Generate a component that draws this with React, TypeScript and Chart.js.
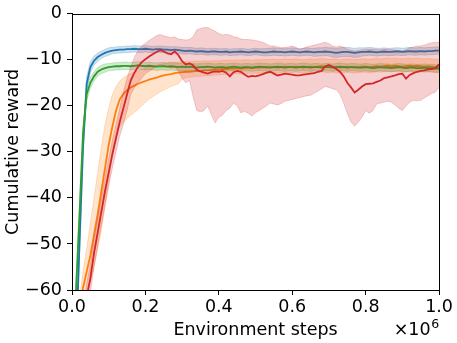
import { useEffect, useRef } from "react";
import { Chart, registerables } from "chart.js";

Chart.register(...registerables);

const STEPS = [
  0, 0.01, 0.02, 0.03, 0.04, 0.05, 0.06, 0.07, 0.08, 0.09,
  0.1, 0.11, 0.12, 0.13, 0.14, 0.15, 0.16, 0.17, 0.18, 0.19,
  0.2, 0.21, 0.22, 0.23, 0.24, 0.25, 0.26, 0.27, 0.28, 0.29,
  0.3, 0.31, 0.32, 0.33, 0.34, 0.35, 0.36, 0.37, 0.38, 0.39,
  0.4, 0.41, 0.42, 0.43, 0.44, 0.45, 0.46, 0.47, 0.48, 0.49,
  0.5, 0.51, 0.52, 0.53, 0.54, 0.55, 0.56, 0.57, 0.58, 0.59,
  0.6, 0.61, 0.62, 0.63, 0.64, 0.65, 0.66, 0.67, 0.68, 0.69,
  0.7, 0.71, 0.72, 0.73, 0.74, 0.75, 0.76, 0.77, 0.78, 0.79,
  0.8, 0.81, 0.82, 0.83, 0.84, 0.85, 0.86, 0.87, 0.88, 0.89,
  0.9, 0.91, 0.92, 0.93, 0.94, 0.95, 0.96, 0.97, 0.98, 0.99, 1.0,
];

const X_TICKS = [0, 0.2, 0.4, 0.6, 0.8, 1.0];
const Y_TICKS = [0, -10, -20, -30, -40, -50, -60];

const BLUE_MEAN = [
  -110, -74, -51, -29, -15.2, -11.6, -10.2, -9.4, -8.9, -8.5,
  -8.2, -8.0, -7.9, -7.8, -7.8, -7.7, -7.7, -7.6, -7.7, -7.7,
  -7.6, -7.7, -7.8, -7.7, -7.7, -7.8, -7.8, -7.9, -7.8, -7.9,
  -8.0, -8.1, -8.0, -8.1, -8.2, -8.1, -8.2, -8.3, -8.2, -8.2,
  -8.3, -8.3, -8.2, -8.4, -8.3, -8.3, -8.2, -8.3, -8.4, -8.3,
  -8.2, -8.3, -8.4, -8.4, -8.3, -8.2, -8.3, -8.3, -8.4, -8.3,
  -8.2, -8.3, -8.4, -8.3, -8.2, -8.3, -8.4, -8.3, -8.3, -8.2,
  -8.3, -8.4, -8.5, -8.4, -8.3, -8.3, -8.4, -8.5, -8.4, -8.3,
  -8.3, -8.2, -8.3, -8.4, -8.3, -8.2, -8.3, -8.3, -8.2, -8.2,
  -8.3, -8.2, -8.1, -8.2, -8.2, -8.1, -8.2, -8.1, -8.1, -8.0, -8.0,
];
const BLUE_HI = [
  -107, -71, -48.5, -26.5, -13.6, -10.4, -9.2, -8.5, -8.1, -7.7,
  -7.4, -7.3, -7.2, -7.1, -7.1, -7.0, -7.0, -6.9, -7.0, -7.0,
  -6.9, -7.0, -7.1, -7.0, -7.0, -7.1, -7.1, -7.2, -7.1, -7.2,
  -7.3, -7.3, -7.3, -7.4, -7.5, -7.4, -7.5, -7.6, -7.5, -7.5,
  -7.6, -7.6, -7.5, -7.7, -7.6, -7.6, -7.5, -7.6, -7.7, -7.6,
  -7.5, -7.6, -7.6, -7.5, -7.5, -7.4, -7.5, -7.5, -7.6, -7.5,
  -7.4, -7.5, -7.6, -7.5, -7.4, -7.5, -7.5, -7.4, -7.4, -7.3,
  -7.4, -7.4, -7.5, -7.4, -7.3, -7.3, -7.4, -7.5, -7.4, -7.4,
  -7.4, -7.3, -7.4, -7.5, -7.5, -7.4, -7.5, -7.5, -7.4, -7.4,
  -7.5, -7.4, -7.3, -7.4, -7.4, -7.3, -7.4, -7.3, -7.3, -7.2, -7.2,
];
const BLUE_LO = [
  -113, -77, -53.5, -31.5, -16.8, -12.8, -11.2, -10.3, -9.7, -9.3,
  -9.0, -8.7, -8.6, -8.5, -8.5, -8.4, -8.4, -8.3, -8.4, -8.4,
  -8.3, -8.4, -8.5, -8.4, -8.4, -8.5, -8.5, -8.6, -8.5, -8.6,
  -8.7, -8.8, -8.7, -8.8, -8.9, -8.8, -8.9, -9.0, -8.9, -8.9,
  -9.0, -9.0, -8.9, -9.1, -9.0, -9.0, -8.9, -9.0, -9.1, -9.0,
  -8.9, -9.0, -9.1, -9.2, -9.1, -9.0, -9.1, -9.1, -9.2, -9.1,
  -9.0, -9.1, -9.2, -9.1, -9.0, -9.1, -9.3, -9.2, -9.2, -9.1,
  -9.2, -9.4, -9.5, -9.4, -9.3, -9.3, -9.4, -9.5, -9.4, -9.2,
  -9.1, -9.0, -9.1, -9.2, -9.1, -9.0, -9.1, -9.1, -9.0, -9.0,
  -9.1, -9.0, -8.9, -9.0, -9.0, -8.9, -9.0, -8.9, -8.9, -8.8, -8.8,
];

const ORANGE_MEAN = [
  -80, -72, -65, -59.5, -56, -52.5, -48, -43.5, -38.5, -33.5,
  -28.5, -24.5, -21, -18.6, -17.4, -16.6, -16.0, -15.6, -15.2, -14.9,
  -14.6, -14.3, -14.1, -13.9, -13.6, -13.4, -13.2, -13.1, -12.9, -12.8,
  -12.7, -12.6, -12.6, -12.5, -12.4, -12.4, -12.3, -12.3, -12.2, -12.1,
  -12.1, -12.0, -12.0, -11.9, -11.9, -11.8, -11.9, -11.8, -11.7, -11.8,
  -11.7, -11.7, -11.6, -11.7, -11.6, -11.6, -11.7, -11.6, -11.5, -11.6,
  -11.6, -11.5, -11.6, -11.7, -11.6, -11.5, -11.6, -11.5, -11.4, -11.5,
  -11.6, -11.5, -11.6, -11.7, -11.6, -11.5, -11.6, -11.7, -11.6, -11.5,
  -11.5, -11.6, -11.5, -11.4, -11.5, -11.4, -11.3, -11.4, -11.3, -11.4,
  -11.5, -11.4, -11.3, -11.4, -11.3, -11.4, -11.5, -11.4, -11.5, -11.6, -11.6,
];
const ORANGE_HI = [
  -76, -68, -62, -56, -51, -45.5, -40, -34.5, -29, -24,
  -20.5, -17.5, -15.8, -14.6, -13.9, -13.4, -13.0, -12.7, -12.4, -12.1,
  -11.9, -11.6, -11.4, -11.2, -11.0, -10.8, -10.7, -10.6, -10.5, -10.5,
  -10.4, -10.4, -10.4, -10.3, -10.3, -10.3, -10.2, -10.3, -10.2, -10.2,
  -10.2, -10.1, -10.1, -10.1, -10.1, -10.0, -10.1, -10.0, -10.0, -10.1,
  -10.0, -10.0, -9.9, -10.0, -9.9, -9.9, -10.0, -9.9, -9.8, -9.9,
  -9.9, -9.8, -9.9, -10.0, -9.9, -9.8, -9.9, -9.8, -9.7, -9.8,
  -9.9, -9.8, -9.9, -10.0, -9.9, -9.8, -9.9, -10.0, -9.9, -9.8,
  -9.8, -9.9, -9.8, -9.7, -9.8, -9.7, -9.6, -9.7, -9.6, -9.7,
  -9.8, -9.7, -9.6, -9.7, -9.6, -9.7, -9.8, -9.7, -9.8, -9.9, -9.9,
];
const ORANGE_LO = [
  -86, -78, -70, -64, -61, -58, -55, -51, -47, -42,
  -36.5, -30, -26.5, -24.5, -23.5, -22.8, -22.0, -21.4, -20.8, -20.0,
  -19.2, -18.5, -18.0, -17.5, -17.0, -16.6, -16.2, -15.8, -15.5, -15.2,
  -14.2, -13.9, -13.8, -13.7, -13.6, -13.6, -13.5, -13.5, -13.4, -13.3,
  -13.3, -13.2, -13.2, -13.1, -13.1, -13.0, -13.1, -13.0, -12.9, -13.0,
  -12.9, -12.9, -12.8, -12.9, -12.8, -12.8, -12.9, -12.8, -12.7, -12.8,
  -12.8, -12.7, -12.8, -12.9, -12.8, -12.7, -12.8, -12.7, -12.6, -12.7,
  -12.8, -12.7, -12.8, -12.9, -12.8, -12.7, -12.8, -12.9, -12.8, -12.7,
  -12.7, -12.8, -12.7, -12.6, -12.7, -12.6, -12.5, -12.6, -12.5, -12.6,
  -12.7, -12.6, -12.5, -12.6, -12.5, -12.6, -12.7, -12.6, -12.7, -12.8, -12.8,
];

const GREEN_MEAN = [
  -79, -61.7, -44.4, -26, -17.5, -15.0, -13.6, -12.6, -12.1, -11.8,
  -11.6, -11.5, -11.4, -11.4, -11.3, -11.3, -11.4, -11.3, -11.2, -11.3,
  -11.4, -11.3, -11.4, -11.5, -11.4, -11.4, -11.5, -11.4, -11.5, -11.6,
  -11.5, -11.6, -11.5, -11.6, -11.7, -11.6, -11.6, -11.5, -11.6, -11.7,
  -11.6, -11.6, -11.7, -11.6, -11.5, -11.6, -11.7, -11.6, -11.6, -11.7,
  -11.6, -11.5, -11.6, -11.6, -11.7, -11.6, -11.5, -11.6, -11.7, -11.6,
  -11.6, -11.7, -11.6, -11.5, -11.6, -11.7, -11.6, -11.6, -11.7, -11.6,
  -11.6, -11.7, -11.6, -11.5, -11.6, -11.7, -11.6, -11.6, -11.7, -11.7,
  -11.6, -11.7, -11.8, -11.7, -11.6, -11.7, -11.7, -11.8, -11.7, -11.6,
  -11.7, -11.8, -11.7, -11.7, -11.8, -11.8, -11.7, -11.8, -11.8, -11.9, -11.9,
];
const GREEN_HI = [
  -76, -59, -42, -24, -16, -13.8, -12.6, -11.7, -11.2, -10.9,
  -10.8, -10.7, -10.6, -10.6, -10.5, -10.5, -10.6, -10.5, -10.4, -10.5,
  -10.6, -10.5, -10.6, -10.7, -10.6, -10.6, -10.7, -10.6, -10.7, -10.8,
  -10.7, -10.8, -10.7, -10.8, -10.9, -10.8, -10.8, -10.7, -10.8, -10.9,
  -10.8, -10.8, -10.9, -10.8, -10.7, -10.8, -10.9, -10.8, -10.8, -10.9,
  -10.8, -10.7, -10.8, -10.8, -10.9, -10.8, -10.7, -10.8, -10.9, -10.8,
  -10.8, -10.9, -10.8, -10.7, -10.8, -10.9, -10.8, -10.8, -10.9, -10.8,
  -10.8, -10.9, -10.8, -10.7, -10.8, -10.9, -10.8, -10.8, -10.9, -10.9,
  -10.8, -10.9, -11.0, -10.9, -10.8, -10.9, -10.9, -11.0, -10.9, -10.8,
  -10.9, -11.0, -10.9, -10.9, -11.0, -11.0, -10.9, -11.0, -11.0, -11.1, -11.1,
];
const GREEN_LO = [
  -82, -64.5, -47, -28, -19, -16.2, -14.6, -13.5, -13.0, -12.7,
  -12.4, -12.3, -12.2, -12.2, -12.1, -12.1, -12.2, -12.1, -12.0, -12.1,
  -12.2, -12.1, -12.2, -12.3, -12.2, -12.2, -12.3, -12.2, -12.3, -12.4,
  -12.3, -12.4, -12.3, -12.4, -12.5, -12.4, -12.4, -12.3, -12.4, -12.5,
  -12.4, -12.4, -12.5, -12.4, -12.3, -12.4, -12.5, -12.4, -12.4, -12.5,
  -12.4, -12.3, -12.4, -12.4, -12.5, -12.4, -12.3, -12.4, -12.5, -12.4,
  -12.4, -12.5, -12.4, -12.3, -12.4, -12.5, -12.4, -12.4, -12.5, -12.4,
  -12.4, -12.5, -12.4, -12.3, -12.4, -12.5, -12.4, -12.4, -12.5, -12.5,
  -12.4, -12.5, -12.6, -12.5, -12.4, -12.5, -12.5, -12.6, -12.5, -12.4,
  -12.5, -12.6, -12.5, -12.5, -12.6, -12.6, -12.5, -12.6, -12.6, -12.7, -12.7,
];

const RED_MEAN = [
  -90, -82, -74, -67, -61.5, -57.5, -52, -47.5, -43, -38.5,
  -34.5, -30.5, -27, -23.5, -20.5, -17.5, -14.5, -12.8, -11.5, -10.5,
  -9.9, -9.3, -8.8, -8.3, -7.9, -8.2, -8.6, -8.8, -8.2, -9.0,
  -10.3, -11.0, -10.8, -11.2, -12.2, -12.5, -12.8, -13.0, -12.7, -12.5,
  -12.6, -12.4, -12.8, -13.6, -12.7, -12.4, -12.6, -13.2, -13.7, -13.5,
  -13.6, -13.4, -13.1, -12.8, -12.6, -13.0, -13.4, -13.2, -13.0, -13.1,
  -13.2, -13.4, -13.4, -13.2, -13.1, -13.0, -12.9, -12.6, -12.4, -11.4,
  -11.1, -11.5, -12.0, -12.6, -13.6, -15.0, -16.0, -17.1, -16.5, -15.8,
  -15.3, -15.2, -15.1, -14.8, -14.5, -14.0, -13.8, -13.6, -13.4, -13.1,
  -13.0, -14.1, -13.3, -12.9, -12.6, -12.4, -12.3, -12.1, -12.0, -11.8, -11.0,
];
const RED_HI = [
  -87, -79, -71, -64, -58.5, -54.5, -49, -44.5, -40, -35.5,
  -31.5, -27.5, -24, -20.5, -17, -14, -11.5, -9.5, -8, -7,
  -6.4, -5.8, -5.3, -4.8, -4.5, -4.8, -5.0, -5.2, -5.0, -5.5,
  -5.6, -5.7, -5.6, -5.0, -3.5, -3.2, -3.0, -3.0, -3.4, -3.8,
  -4.3, -4.6, -4.5, -4.6, -5.0, -5.1, -5.5, -5.6, -5.6, -5.7,
  -5.8, -6.0, -6.2, -6.6, -7.0, -7.0, -7.2, -7.4, -7.3, -7.2,
  -7.0, -7.3, -7.7, -7.5, -7.2, -7.0, -6.8, -6.6, -6.4, -6.2,
  -6.5, -7.0, -7.2, -7.0, -7.3, -7.7, -7.9, -8.1, -8.0, -7.8,
  -7.7, -7.7, -7.7, -7.8, -7.8, -7.7, -7.7, -7.8, -7.9, -8.0,
  -8.1, -7.8, -7.4, -7.2, -7.0, -7.0, -6.8, -6.5, -6.3, -6.2, -6.2,
];
const RED_LO = [
  -93, -85, -77, -70, -64.5, -60.5, -55, -50.5, -46, -41.5,
  -37.5, -33.5, -30, -26.5, -24, -21, -17.5, -16, -15, -14,
  -13, -12.5, -12, -11.3, -11, -11.2, -11.5, -11.8, -11.6, -12.5,
  -14, -15, -14.5, -18, -21, -21.3, -21, -20, -22, -23.7,
  -22.5, -22, -21, -20.5, -19.4, -20, -21.5, -21.2, -21.6, -22.2,
  -21.5, -21, -20.5, -20, -19.4, -19.6, -19.8, -19.5, -19, -18.8,
  -18.6, -18.4, -18.2, -18, -17.8, -17.7, -17.2, -16.8, -16.3, -15.8,
  -16.0, -16.3, -16.5, -17.5, -19.4, -21.6, -23.5, -24.4, -23.5, -22.5,
  -21, -21.6, -21, -19.6, -19.4, -19.2, -19, -19.2, -19.8, -20.5,
  -21, -20, -19.2, -18.8, -18.9, -18.8, -18.3, -17.8, -17.3, -17, -16,
];

const FONT = "'DejaVu Sans', 'Liberation Sans', sans-serif";
const FS = 17.5;

export default function App() {
  const ref = useRef<HTMLCanvasElement>(null);

  useEffect(() => {
    if (!ref.current) return;
    const pts = (ys: number[]) => STEPS.map((x, i) => ({ x, y: ys[i] }));
    const series = [
      { lo: BLUE_LO, hi: BLUE_HI, mean: BLUE_MEAN, rgb: "31,119,180" },
      { lo: ORANGE_LO, hi: ORANGE_HI, mean: ORANGE_MEAN, rgb: "255,127,14" },
      { lo: GREEN_LO, hi: GREEN_HI, mean: GREEN_MEAN, rgb: "44,160,44" },
      { lo: RED_LO, hi: RED_HI, mean: RED_MEAN, rgb: "214,39,40" },
    ];
    const datasets: any[] = [];
    let k = 0;
    series.forEach((s) => {
      const band = `rgba(${s.rgb},0.22)`;
      datasets.push({
        data: pts(s.lo), borderColor: `rgba(${s.rgb},0.22)`, borderWidth: 1,
        pointRadius: 0, fill: false, tension: 0, order: 100 - k++,
      });
      datasets.push({
        data: pts(s.hi), borderColor: `rgba(${s.rgb},0.22)`, borderWidth: 1,
        pointRadius: 0, fill: "-1", backgroundColor: band, tension: 0, order: 100 - k++,
      });
      datasets.push({
        data: pts(s.mean), borderColor: `rgb(${s.rgb})`, borderWidth: 1.8,
        pointRadius: 0, fill: false, tension: 0, order: 100 - k++,
      });
    });

    const framePlugin = {
      id: "frame",
      afterDraw(chart: any) {
        const { ctx, chartArea } = chart;
        const { left, right, top, bottom } = chartArea;
        ctx.save();
        ctx.strokeStyle = "#000";
        ctx.lineWidth = 1;
        ctx.strokeRect(Math.round(left) + 0.5, Math.round(top) + 0.5,
          Math.round(right) - Math.round(left), Math.round(bottom) - Math.round(top));
        // offset text ×10^6
        ctx.fillStyle = "#000";
        ctx.textBaseline = "alphabetic";
        ctx.font = `12.5px ${FONT}`;
        const w6 = ctx.measureText("6").width;
        ctx.textAlign = "left";
        ctx.fillText("6", right - w6, bottom + 38);
        ctx.font = `${FS}px ${FONT}`;
        ctx.textAlign = "right";
        ctx.fillText("×10", right - w6 - 0.5, bottom + 45);
        ctx.restore();
      },
    };

    const chart = new Chart(ref.current, {
      type: "line",
      data: { datasets },
      plugins: [framePlugin],
      options: {
        animation: false,
        responsive: false,
        events: [],
        layout: { padding: { top: 9, right: 17, left: 0, bottom: 0 } },
        plugins: { legend: { display: false }, tooltip: { enabled: false } },
        scales: {
          x: {
            type: "linear",
            min: 0,
            max: 1,
            afterFit: (s: any) => { s.height = 53; },
            afterBuildTicks: (s: any) => { s.ticks = X_TICKS.map((v) => ({ value: v })); },
            ticks: {
              color: "#000",
              font: { family: FONT, size: FS, lineHeight: 1 },
              padding: 4,
              maxRotation: 0,
              callback: (v: any) => Number(v).toFixed(1),
            },
            grid: { drawOnChartArea: false, drawTicks: true, tickLength: 5, color: "#000" },
            border: { display: true, color: "#000", width: 1 },
            title: {
              display: true,
              text: "Environment steps",
              color: "#000",
              font: { family: FONT, size: FS, lineHeight: 1.2 },
              padding: { top: 0, bottom: 2 },
            },
          },
          y: {
            type: "linear",
            min: -60,
            max: 0,
            afterFit: (s: any) => { s.width = 72; },
            afterBuildTicks: (s: any) => { s.ticks = Y_TICKS.map((v) => ({ value: v })); },
            ticks: {
              color: "#000",
              font: { family: FONT, size: FS, lineHeight: 1 },
              padding: 5,
              callback: (v: any) => String(v).replace("-", "\u2212"),
            },
            grid: { drawOnChartArea: false, drawTicks: true, tickLength: 5, color: "#000" },
            border: { display: true, color: "#000", width: 1 },
            title: {
              display: true,
              text: "Cumulative reward",
              color: "#000",
              font: { family: FONT, size: FS, lineHeight: 1.2 },
              padding: { top: 3, bottom: 0 },
            },
          },
        },
      },
    } as any);
    return () => chart.destroy();
  }, []);

  return (
    <div style={{ position: "fixed", left: 0, top: 0, width: 457, height: 343, background: "#fff" }}>
      <canvas ref={ref} width={457} height={343} style={{ display: "block" }} />
    </div>
  );
}
